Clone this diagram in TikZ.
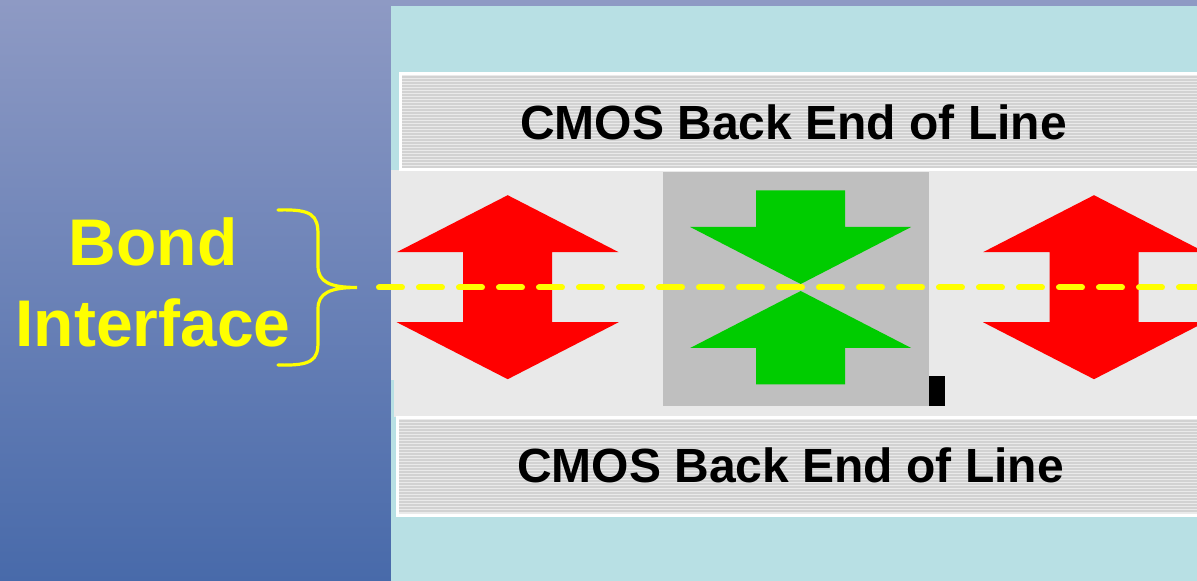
\documentclass[tikz,border=0pt]{standalone}
\usepackage{fontspec}
\setmainfont{Liberation Sans}
\usepackage{tikz}
\usetikzlibrary{positioning}
\definecolor{bgtop}{RGB}{142,154,196}
\definecolor{bgbot}{RGB}{72,106,170}
\definecolor{panelc}{RGB}{184,224,228}
\definecolor{bandc}{RGB}{233,233,233}
\definecolor{stripebg}{RGB}{234,234,234}
\definecolor{stripeln}{RGB}{210,210,210}
\definecolor{midgray}{RGB}{191,191,191}
\definecolor{arrred}{RGB}{255,0,0}
\definecolor{arrgreen}{RGB}{0,204,0}
\definecolor{hiyel}{RGB}{255,255,0}
\tikzset{
  beolbox/.style={fill=stripebg, draw=white, line width=1.5pt},
  stripe/.style={draw=stripeln, line width=0.6pt},
  beoltxt/.style={font=\fontsize{24}{28}\selectfont\bfseries, text=black, inner sep=0pt, anchor=base},
  bondtxt/.style={font=\fontsize{33}{40}\selectfont\bfseries, text=hiyel, inner sep=0pt, anchor=base},
  brace/.style={draw=hiyel, line width=1.6pt, line cap=round},
  bondline/.style={draw=hiyel, line width=3pt, line cap=round, dash pattern=on 11.5pt off 8.5pt},
  rdarr/.style={fill=arrred},
  gnarr/.style={fill=arrgreen},
  pics/updown/.style={code={
    \fill[rdarr] (0,-92) -- (111,-35) -- (44.5,-35) -- (44.5,35) -- (111,35) -- (0,92)
      -- (-111,35) -- (-44.5,35) -- (-44.5,-35) -- (-111,-35) -- cycle;
  }},
  pics/squeeze/.style={code={
    \fill[gnarr] (-44.5,-97) -- (44.5,-97) -- (44.5,-60.5) -- (110.5,-60.5) -- (0,-3.5)
      -- (-110.5,-60.5) -- (-44.5,-60.5) -- cycle;
    \fill[gnarr] (-44.5,97) -- (44.5,97) -- (44.5,60.5) -- (110.5,60.5) -- (0,3.5)
      -- (-110.5,60.5) -- (-44.5,60.5) -- cycle;
  }}
}

\begin{document}
\begin{tikzpicture}[x=0.5pt,y=-0.5pt]
  \useasboundingbox (0,0) rectangle (1197,581);
  \clip (0,0) rectangle (1197,581);
  % backdrop
  \shade[top color=bgtop, bottom color=bgbot] (0,0) rectangle (1197,581);
  \fill[panelc] (391,6) rectangle (1197,581);
  \fill[bandc] (391,170) rectangle (1197,380);
  \fill[bandc] (394,380) rectangle (1197,417);
  % back end of line layers
  \draw[beolbox] (400.5,73.5) rectangle (1205,169.5);
  \foreach \k in {77,80,...,167} \draw[stripe] (402,\k) -- (1200,\k);
  \draw[beolbox] (397.5,417.5) rectangle (1205,515);
  \foreach \k in {421,424,...,512} \draw[stripe] (399,\k) -- (1200,\k);
  \node[beoltxt] (beoltop) at (793.5,140) {CMOS Back End of Line};
  \node[beoltxt] (beolbot) at (790.5,483) {CMOS Back End of Line};
  % bonding region
  \fill[midgray] (663,172) rectangle (929,406);
  \fill[black] (929,376) rectangle (945,406);
  \pic (redl) at (507.7,287.2) {updown};
  \pic (redr) at (1094,287.2) {updown};
  \pic (grn) at (800.7,287.5) {squeeze};
  % label
  \node[bondtxt] (bond) at (153,266) {Bond};
  \node[bondtxt] (iface) at (153,347) {Interface};
  \coordinate (tip) at (357,287.5);
  \coordinate (lineend) at (1200,287.5);
  \draw[brace] (278,210) .. controls (312,209) and (318,215) .. (318,235) -- (318,266)
    .. controls (318,282) and (330,287.5) .. (tip)
    .. controls (330,287.5) and (318,293) .. (318,309) -- (318,342)
    .. controls (318,360) and (312,366) .. (278,365);
  \draw[bondline] ([xshift=11pt]tip) -- (lineend);
\end{tikzpicture}
\end{document}
